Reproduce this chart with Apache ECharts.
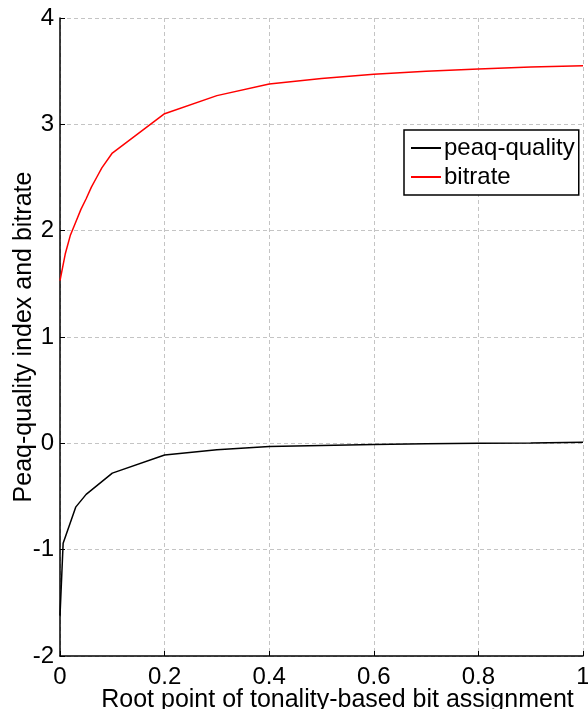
<!DOCTYPE html>
<html>
<head>
<meta charset="utf-8">
<script src="https://cdn.jsdelivr.net/npm/echarts@6/dist/echarts.min.js"></script>
<style>
  html, body { margin: 0; padding: 0; background: #fff; }
  #chart { width: 588px; height: 709px; }
</style>
</head>
<body>
<div id="chart"></div>
<script>
// values
const qualityX = [0, 0.006, 0.03, 0.05, 0.1, 0.2, 0.3, 0.4, 0.5, 0.6, 0.7, 0.8, 0.9, 1.0];
const qualityY = [-1.62, -0.94, -0.60, -0.48, -0.28, -0.11, -0.06, -0.03, -0.02, -0.01, -0.005, 0, 0.003, 0.01];

const bitrateX = [0, 0.01, 0.02, 0.03, 0.04, 0.05, 0.06, 0.07, 0.08, 0.1, 0.2, 0.3, 0.4, 0.5, 0.6, 0.7, 0.8, 0.9, 1.0];
const bitrateY = [1.53, 1.78, 1.96, 2.08, 2.20, 2.30, 2.41, 2.50, 2.59, 2.73, 3.10, 3.27, 3.38, 3.43, 3.47, 3.50, 3.52, 3.54, 3.55];

const seriesNames = ['peaq-quality', 'bitrate'];

const pairs = (xs, ys) => xs.map((x, i) => [x, ys[i]]);

const chart = echarts.init(document.getElementById('chart'));
const font = 'Liberation Sans, Arial, sans-serif';

const gridLine = { show: true, lineStyle: { color: '#c4c4c4', type: [4, 3], width: 1 } };

chart.setOption({
  animation: false,
  textStyle: { fontFamily: font },
  grid: { left: 60, right: 5, top: 18, bottom: 53, outerBoundsMode: 'none', containLabel: false },
  legend: {
    data: seriesNames,
    orient: 'vertical',
    left: 404,
    top: 130,
    padding: [6, 4, 6, 7],
    itemGap: 5,
    itemWidth: 30,
    itemHeight: 2,
    icon: 'rect',
    borderColor: '#000',
    borderWidth: 1.5,
    backgroundColor: '#fff',
    textStyle: { fontSize: 24, color: '#000', fontFamily: font, padding: [0, 0, 0, -2] }
  },
  xAxis: {
    type: 'value',
    min: 0,
    max: 1,
    interval: 0.2,
    name: 'Root point of tonality-based bit assignment',
    nameLocation: 'middle',
    nameGap: 32,
    nameMoveOverlap: false,
    nameTextStyle: { fontSize: 25, color: '#000', fontFamily: font, padding: [0, 0, 0, 32] },
    axisLine: { onZero: false, lineStyle: { color: '#000', width: 1.5 } },
    axisTick: { inside: true, length: 5, lineStyle: { color: '#000' } },
    axisLabel: { fontSize: 24, color: '#000', margin: 9, fontFamily: font },
    splitLine: gridLine
  },
  yAxis: {
    type: 'value',
    min: -2,
    max: 4,
    interval: 1,
    name: 'Peaq-quality index and bitrate',
    nameLocation: 'middle',
    nameGap: 23,
    nameMoveOverlap: false,
    nameTextStyle: { fontSize: 25, color: '#000', fontFamily: font },
    axisLine: { show: true, lineStyle: { color: '#000', width: 1.5 } },
    axisTick: { show: true, inside: true, length: 5, lineStyle: { color: '#000' } },
    axisLabel: { fontSize: 24, color: '#000', margin: 6, fontFamily: font },
    splitLine: gridLine
  },
  series: [
    {
      name: seriesNames[0],
      type: 'line',
      data: pairs(qualityX, qualityY),
      showSymbol: false,
      color: '#000',
      lineStyle: { color: '#000', width: 1.5 }
    },
    {
      name: seriesNames[1],
      type: 'line',
      data: pairs(bitrateX, bitrateY),
      showSymbol: false,
      color: '#ff0000',
      lineStyle: { color: '#ff0000', width: 1.5 }
    }
  ]
});
</script>
</body>
</html>
